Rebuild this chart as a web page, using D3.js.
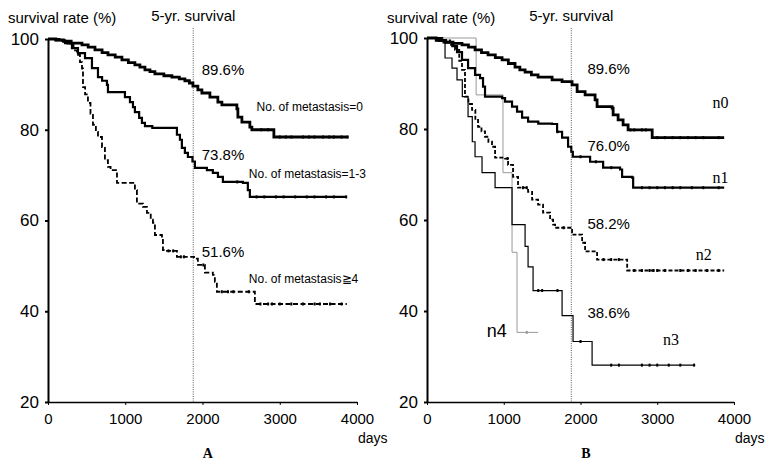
<!DOCTYPE html>
<html><head><meta charset="utf-8">
<script src="https://cdn.jsdelivr.net/npm/d3@7"></script>
<style>
body{margin:0;background:#fff;}
svg{display:block;}
text{font-family:"Liberation Sans",Arial,sans-serif;fill:#000;}
</style></head>
<body><svg id="c" width="769" height="462"></svg>
<script>
// ---------- DATA ----------
const xTicks = [0, 1000, 2000, 3000, 4000];
const yTicks = [20, 40, 60, 80, 100];
const fiveYear = 1880;

// Panel A : [day, survival %]
const A_meta0 = [[0,100],[100,99.8],[200,99.5],[300,99.1],[440,98.7],[520,98.2],[608,97.6],[700,97.0],[776,96.5],[870,96.0],[957,95.4],[1040,94.8],[1125,94.3],[1190,93.8],[1255,93.2],[1320,92.8],[1384,92.3],[1500,91.9],[1604,91.6],[1700,91.2],[1772,90.8],[1830,90.3],[1876,89.6],[1940,88.8],[1992,88.1],[2096,87.2],[2199,86.1],[2251,85.5],[2445,84.6],[2458,82.8],[2510,81.7],[2613,80.6],[2639,80.0],[2924,78.4],[3881,78.4]];
const A_meta13 = [[0,100],[100,99.7],[220,99.1],[310,98.0],[388,96.9],[479,95.8],[569,93.6],[647,91.6],[700,90.8],[763,89.9],[776,88.3],[996,87.2],[1061,86.1],[1100,85.0],[1125,83.9],[1180,82.6],[1216,81.5],[1255,80.8],[1350,80.4],[1669,78.9],[1708,77.8],[1733,76.0],[1772,74.9],[1811,74.0],[1870,73.0],[1902,71.6],[2057,71.1],[2134,70.5],[2200,69.6],[2264,68.5],[2523,68.3],[2587,66.7],[2613,65.2],[3868,65.2]];
const A_meta4 = [[0,100],[150,99.6],[250,99.0],[330,97.5],[375,96.5],[414,94.9],[440,93.5],[453,89.4],[480,87.8],[517,85.9],[550,83.5],[582,81.1],[620,79.5],[647,78.4],[699,76.2],[737,73.3],[776,71.8],[810,71.1],[893,68.3],[1125,66.7],[1151,63.7],[1229,63.0],[1281,61.7],[1330,60.2],[1358,59.5],[1384,56.8],[1475,56.2],[1488,53.5],[1540,53.3],[1669,52.0],[1890,51.6],[1940,50.2],[2031,48.5],[2134,48.0],[2160,46.5],[2186,44.3],[2678,41.6],[3868,41.6]];
const A_cens0 = [2760,2850,3000,3080,3150,3300,3380,3450,3560,3640,3700,3800,3880];
const A_cens13 = [2450,2700,2800,2950,3050,3200,3350,3450,3600,3700,3860];
const A_cens4 = [1560,1620,1720,1760,2010,2250,2330,2400,2600,2750,2850,2900,3000,3150,3300,3450,3520,3650,3800];

// Panel B
const B_n0 = [[0,100],[120,99.5],[235,99.1],[340,98.8],[456,98.5],[540,98.0],[626,97.4],[710,96.8],[795,96.3],[890,95.7],[978,95.2],[1060,94.4],[1147,93.6],[1210,93.0],[1278,92.5],[1360,91.9],[1447,91.4],[1630,90.8],[1760,90.4],[1890,89.7],[1956,88.2],[2060,87.5],[2190,86.4],[2216,84.9],[2412,84.6],[2425,83.1],[2490,82.0],[2555,80.9],[2620,79.8],[2934,78.1],[3872,78.1]];
const B_n1 = [[0,100],[150,99.5],[250,99.0],[330,98.2],[391,96.9],[456,95.2],[535,93.4],[626,91.9],[691,91.2],[730,89.3],[756,87.1],[978,86.8],[1017,86.0],[1108,84.9],[1173,83.8],[1239,82.5],[1317,81.6],[1450,81.2],[1630,81.1],[1695,79.4],[1760,78.1],[1838,76.1],[1880,75.0],[1900,73.9],[2125,72.8],[2295,71.5],[2516,71.1],[2542,69.5],[2673,69.3],[2686,67.1],[3872,67.1]];
const B_n2 = [[0,100],[200,99.5],[300,98.5],[365,97.4],[420,95.0],[456,93.0],[495,87.1],[540,85.5],[587,84.2],[630,82.0],[665,80.5],[710,79.5],[756,78.3],[800,77.2],[847,76.1],[887,73.7],[1017,73.5],[1056,72.1],[1121,69.5],[1186,67.1],[1317,66.2],[1369,64.5],[1447,63.4],[1512,61.6],[1604,60.1],[1643,59.0],[1669,58.3],[1890,56.8],[2021,55.0],[2060,53.1],[2216,51.3],[2608,48.9],[3872,48.9]];
const B_n3 = [[0,100],[150,99.3],[210,98.9],[235,95.6],[326,93.4],[391,90.8],[460,87.1],[535,82.7],[590,77.2],[626,73.9],[717,70.4],[887,67.1],[1108,59.0],[1278,54.2],[1317,49.7],[1382,44.5],[1760,39.0],[1903,33.3],[2151,28.1],[3494,28.1]];
const B_n4 = [[0,100],[640,87.5],[990,70.4],[1108,52.9],[1173,35.3],[1447,35.3]];
const B_cens0 = [2650,2700,2800,2850,3000,3100,3200,3300,3400,3500,3600,3800];
const B_cens1 = [1700,2000,2200,2400,2800,2900,3000,3100,3200,3300,3450,3600,3800];
const B_cens2 = [1050,1250,1300,1780,2300,2400,2500,2700,2800,2900,2950,3000,3100,3300,3400,3500,3650,3800];
const B_cens3 = [1450,1500,1700,2000,2400,2500,2800,2900,3000,3150,3300,3480];
const B_cens4 = [1300];

// labels
const A_labels = [
  {t:"89.6%", d:1990, v:92.0, s:15},
  {t:"No. of metastasis=0", d:2700, v:84.1, s:12},
  {t:"73.8%", d:1990, v:73.4, s:15},
  {t:"No. of metastasis=1-3", d:2600, v:69.3, s:12},
  {t:"51.6%", d:1990, v:51.9, s:15},
  {t:"No. of metastasis\u22674", d:2600, v:46.3, s:12}
];
const B_pct = [
  {t:"89.6%", d:2090, v:92.1},
  {t:"76.0%", d:2090, v:75.2},
  {t:"58.2%", d:2090, v:58.1},
  {t:"38.6%", d:2090, v:38.4}
];
const B_names = [
  {t:"n0", d:3720, v:84.6, serif:true},
  {t:"n1", d:3720, v:68.1, serif:true},
  {t:"n2", d:3500, v:51.2, serif:true},
  {t:"n3", d:3075, v:32.5, serif:true},
  {t:"n4", d:780, v:34.2, serif:false}
];

// ---------- DRAW ----------
const svg = d3.select("#c");

function stepVal(data, day){
  let v = data[0][1];
  for (const p of data){ if (p[0] <= day) v = p[1]; else break; }
  return v;
}

function panel(cfg){
  const x = d3.scaleLinear().domain([0,4000]).range(cfg.xr);
  const y = d3.scaleLinear().domain([20,100]).range([402, cfg.ytop]);
  const g = svg.append("g");

  // 5-yr line
  g.append("line").attr("x1", x(fiveYear)).attr("x2", x(fiveYear))
    .attr("y1", 28).attr("y2", 402)
    .attr("stroke", "#555").attr("stroke-width", 1).attr("stroke-dasharray", "1,1.3");

  const line = d3.line().x(d=>x(d[0])).y(d=>y(d[1])).curve(d3.curveStepAfter);
  cfg.curves.forEach(c=>{
    g.append("path").datum(c.data).attr("d", line)
      .attr("fill","none").attr("stroke", c.color)
      .attr("stroke-width", c.w).attr("stroke-dasharray", c.dash || null);
    g.selectAll(null).data(c.cens).enter().append("rect")
      .attr("x", d=>x(d)-1).attr("y", d=>y(stepVal(c.data,d))-1.5)
      .attr("width", 2).attr("height", 3).attr("fill", c.color);
  });

  // axes
  const xa = g.append("g").attr("transform","translate(0,402)")
    .call(d3.axisBottom(x).tickValues(xTicks).tickFormat(d3.format("d")).tickSize(3).tickSizeOuter(0).tickPadding(8));
  xa.select(".domain").attr("stroke-width",1.5);
  xa.selectAll("text").style("font-size","15px").attr("font-family","Liberation Sans, Arial, sans-serif");
  const ya = g.append("g").attr("transform",`translate(${cfg.xr[0]},0)`)
    .call(d3.axisLeft(y).tickValues(yTicks).tickFormat(d3.format("d")).tickSize(3).tickSizeOuter(0).tickPadding(6));
  ya.select(".domain").attr("stroke-width",2);
  ya.selectAll(".tick line").attr("stroke-width",2);
  ya.selectAll("text").style("font-size","17px").attr("font-family","Liberation Sans, Arial, sans-serif");

  g.append("text").attr("x", cfg.xr[0]-40).attr("y", 23).style("font-size","15px").text("survival rate (%)");
  g.append("text").attr("x", x(fiveYear)).attr("y", 21).attr("text-anchor","middle").style("font-size","15px").text("5-yr. survival");
  g.append("text").attr("x", cfg.xr[1]+1).attr("y", 443).style("font-size","14px").text("days");
  g.append("text").attr("x", x(2070)).attr("y", 458).attr("text-anchor","middle")
    .style("font-family","Liberation Serif, Times New Roman, serif").style("font-weight","bold").style("font-size","14px").text(cfg.letter);

  cfg.labels.forEach(l=>{
    g.append("text").attr("x", x(l.d)).attr("y", y(l.v))
      .style("font-size", (l.s||15)+"px")
      .style("font-family", l.serif ? "Liberation Serif, Times New Roman, serif" : "Liberation Sans, Arial, sans-serif")
      .text(l.t);
  });
  return {x,y};
}

panel({
  xr:[48,357], ytop:39, letter:"A",
  curves:[
    {data:A_meta4, color:"#000", w:1.8, dash:"5,2.5", cens:A_cens4},
    {data:A_meta13, color:"#000", w:2.2, cens:A_cens13},
    {data:A_meta0, color:"#000", w:2.8, cens:A_cens0}
  ],
  labels:A_labels
});

panel({
  xr:[427,734], ytop:38, letter:"B",
  curves:[
    {data:B_n4, color:"#999", w:1, cens:B_cens4},
    {data:B_n3, color:"#000", w:1.2, cens:B_cens3},
    {data:B_n2, color:"#000", w:1.8, dash:"4,2", cens:B_cens2},
    {data:B_n1, color:"#000", w:2.2, cens:B_cens1},
    {data:B_n0, color:"#000", w:2.8, cens:B_cens0}
  ],
  labels:B_pct.map(d=>({t:d.t,d:d.d,v:d.v,s:15}))
    .concat(B_names.map(d=>({t:d.t,d:d.d,v:d.v,s:d.serif?16:18,serif:d.serif})))
});
</script></body></html>
